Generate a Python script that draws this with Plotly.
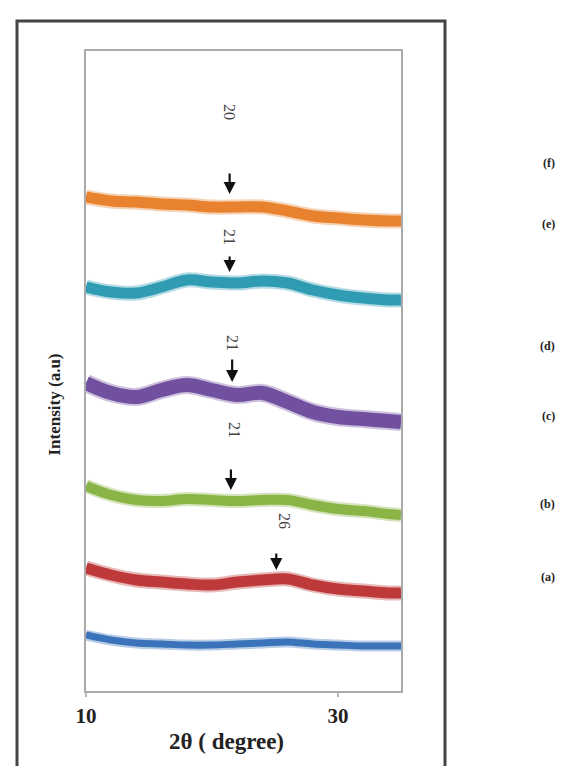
import plotly.graph_objects as go

# ---- data ----
two_theta = [10, 12, 14, 16, 18, 20, 22, 24, 26, 28, 30, 32, 34, 35]

sample_names = ["(a)", "(b)", "(c)", "(d)", "(e)", "(f)"]
int_a = [56, 51, 48, 47, 46, 46, 47, 48, 49, 47, 46, 45, 45, 45]
int_b = [123, 116, 111, 109, 107, 106, 109, 111, 112, 106, 102, 100, 98, 98]
int_c = [205, 196, 191, 190, 192, 191, 190, 191, 191, 186, 182, 180, 177, 176]
int_d = [308, 298, 294, 301, 306, 301, 296, 298, 289, 279, 274, 272, 270, 269]
int_e = [404, 399, 398, 404, 411, 409, 408, 410, 408, 401, 396, 393, 391, 391]
int_f = [494, 490, 489, 487, 486, 484, 484, 484, 480, 475, 473, 471, 470, 470]

peak_labels = ["20", "21", "21", "21", "26"]
peak_pos = [21.4, 21.4, 21.6, 21.5, 25.1]      # 2θ of arrows
peak_tip = [497, 419, 309, 201, 121]           # intensity at arrow tip

x_ticks = [10, 30]
x_tick_text = ["10", "30"]

# ---- styling ----
series = [int_a, int_b, int_c, int_d, int_e, int_f]
colors = ["#3B73BA", "#BE3A3A", "#8AB446", "#7150A0", "#2F9CB4", "#E8822F"]
widths = [7, 11, 10, 14, 11, 11]
sample_label_py = [578, 505, 408, 338, 207, 146]
peak_label_px = [222, 222, 225, 227, 277]
peak_label_py = [94, 219, 335, 422, 523]
arrow_len = [22, 17, 24, 22, 18]

L, R, T, B = 78, 393, 43, 683
W, H = 574, 766


def px(xp):
    return (xp - L) / (R - L)


def py(yp):
    return (B - yp) / (B - T)


SERIF = "Liberation Serif, Times New Roman, serif"

fig = go.Figure()
for ys, c, w in zip(series, colors, widths):
    fig.add_trace(go.Scatter(x=two_theta, y=ys, mode="lines",
                             line=dict(color=c, width=w + 4, shape="spline"),
                             opacity=0.35, hoverinfo="skip", showlegend=False))
    fig.add_trace(go.Scatter(x=two_theta, y=ys, mode="lines",
                             line=dict(color=c, width=w, shape="spline"),
                             showlegend=False))

annotations = []
for lbl, ypx in zip(sample_names, sample_label_py):
    annotations.append(dict(text=lbl, xref="paper", yref="paper",
                            x=px(549), y=py(ypx), showarrow=False,
                            font=dict(family=SERIF, size=12, color="#222", weight="bold")))

for lbl, xp, yp in zip(peak_labels, peak_label_px, peak_label_py):
    annotations.append(dict(text=lbl, xref="paper", yref="paper",
                            x=px(xp), y=py(yp), showarrow=False, textangle=90,
                            font=dict(family=SERIF, size=16, color="#444")))

for xpos, ytip, ln in zip(peak_pos, peak_tip, arrow_len):
    annotations.append(dict(text="", x=xpos, y=ytip, xref="x", yref="y",
                            showarrow=True, ax=0, ay=-ln, axref="pixel", ayref="pixel",
                            arrowhead=2, arrowsize=1.1, arrowwidth=2.2,
                            arrowcolor="#111"))

annotations.append(dict(text="<b>2θ ( degree)</b>", xref="paper", yref="paper",
                        x=px(218), y=py(748), showarrow=False,
                        font=dict(family=SERIF, size=23, color="#222")))
annotations.append(dict(text="<b>Intensity (a.u)</b>", xref="paper", yref="paper",
                        x=px(34), y=py(397), showarrow=False, textangle=-90,
                        font=dict(family=SERIF, size=17, color="#222")))

shapes = [dict(type="rect", xref="paper", yref="paper",
               x0=px(9), x1=px(437), y0=py(764), y1=py(13),
               line=dict(color="#444", width=3), fillcolor="rgba(0,0,0,0)")]

fig.update_layout(
    width=W, height=H,
    margin=dict(l=L, r=W - R, t=T, b=H - B),
    paper_bgcolor="white", plot_bgcolor="white",
    annotations=annotations, shapes=shapes,
    xaxis=dict(range=[10, 35], tickvals=x_ticks, ticktext=x_tick_text,
               ticks="outside", ticklen=4, tickcolor="#bbb", tickwidth=2,
               showgrid=False, zeroline=False, showline=True, mirror=True,
               linecolor="#aaa", linewidth=2, ticklabelstandoff=1,
               tickfont=dict(family=SERIF, size=21, color="#222", weight="bold")),
    yaxis=dict(range=[0, B - T], showticklabels=False, ticks="",
               showgrid=False, zeroline=False, showline=True, mirror=True,
               linecolor="#aaa", linewidth=2),
)

fig.write_html("out.html")
